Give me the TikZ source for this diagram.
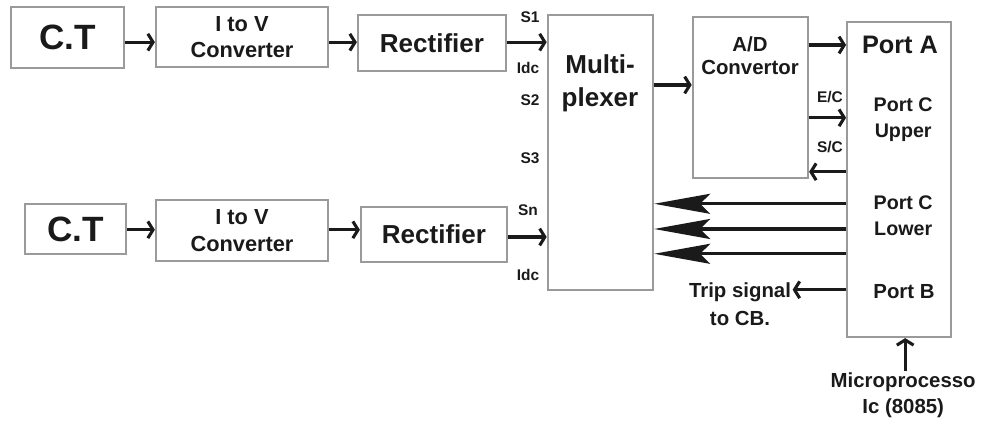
\documentclass[tikz,border=0pt]{standalone}
\usepackage{fontspec}
\setmainfont{Liberation Sans}
\usetikzlibrary{arrows.meta,positioning,calc}
\definecolor{boxGrey}{HTML}{9a9a9a}
\definecolor{inkBlack}{HTML}{1a1a1a}
\tikzset{
  blk/.style={draw=boxGrey, line width=1.6pt, fill=white, align=center,
              inner sep=2pt, text=inkBlack, font=\bfseries},
  lbl/.style={align=center, inner sep=1pt, text=inkBlack, font=\bfseries},
  sig/.style={draw=inkBlack, line width=2.2pt,
              -{Straight Barb[length=1.3mm,width=4.2mm]}},
  bus/.style={draw=inkBlack, line width=2.2pt,
              -{Stealth[length=14mm,width=5mm,inset=2.5mm]}},
}
\newcommand{\fs}[2]{\fontsize{#1}{#2}\selectfont}
\begin{document}
\begin{tikzpicture}
  \useasboundingbox (0,0) rectangle (24.725,10.575);
  % input chains
  \node[blk,font=\bfseries\fs{25}{28},minimum width=2.83cm,minimum height=1.53cm] (ct1) at (1.69,9.64) {C.T};
  \node[blk,font=\bfseries\fs{15.5}{19},minimum width=4.3cm,minimum height=1.5cm] (iv1) at (6.05,9.65) {I to V\\Converter};
  \node[blk,font=\bfseries\fs{18.5}{22},minimum width=3.7cm,minimum height=1.4cm] (re1) at (10.8,9.5) {Rectifier};
  \node[blk,font=\bfseries\fs{25}{28},minimum width=2.53cm,minimum height=1.25cm] (ct2) at (1.89,4.85) {C.T};
  \node[blk,font=\bfseries\fs{15.5}{19},minimum width=4.3cm,minimum height=1.53cm] (iv2) at (6.05,4.81) {I to V\\Converter};
  \node[blk,font=\bfseries\fs{18.5}{22},minimum width=3.65cm,minimum height=1.38cm] (re2) at (10.85,4.71) {Rectifier};
  % main blocks
  \node[blk,minimum width=2.63cm,minimum height=6.88cm] (mux) at (15.01,6.76) {};
  \node[lbl,font=\bfseries\fs{18.5}{23.5}] (muxt) at (15.0,8.5) {Multi-\\plexer};
  \node[blk,minimum width=2.88cm,minimum height=4.03cm] (adc) at (18.76,8.14) {};
  \node[lbl,font=\bfseries\fs{14.5}{16.5}] (adct) at (18.75,9.18) {A/D\\Convertor};
  \node[blk,minimum width=2.6cm,minimum height=7.88cm] (port) at (22.48,6.09) {};
  \node[lbl,font=\bfseries\fs{18}{21}] (pa) at (22.5,9.45) {Port A};
  \node[lbl,font=\bfseries\fs{14}{18}] (pcu) at (22.58,7.58) {Port C\\Upper};
  \node[lbl,font=\bfseries\fs{14}{18}] (pcl) at (22.58,5.18) {Port C\\Lower};
  \node[lbl,font=\bfseries\fs{14.5}{17}] (pb) at (22.6,3.28) {Port B};
  % channel labels
  \foreach \n/\t/\x/\y in {s1/S1/13.25/10.15, i1/Idc/13.2/8.88, s2/S2/13.25/8.08,
                           s3/S3/13.25/6.63, sn/Sn/13.2/5.33, i2/Idc/13.2/3.7,
                           ec/E\slash C/20.75/8.15, sc/S\slash C/20.75/6.9}
    \node[lbl,font=\bfseries\fs{11}{13}] (\n) at (\x,\y) {\t};
  \node[lbl,font=\bfseries\fs{14.5}{20}] (trip) at (18.5,2.98) {Trip signal\\to CB.};
  \node[lbl,font=\bfseries\fs{14.5}{18.5}] (mp) at (22.58,0.7) {Microprocesso\\Ic (8085)};
  % connectors
  \coordinate (row1) at (0,9.52);
  \coordinate (row2) at (0,4.83);
  \foreach \r in {1,2}{
    \draw[sig] (ct\r.east |- row\r) -- (iv\r.west |- row\r);
    \draw[sig] (iv\r.east |- row\r) -- (re\r.west |- row\r);
  }
  \draw[sig] (re1.east |- row1) -- (mux.west |- row1);
  \coordinate (snrow) at (0,4.65);
  \draw[sig] (re2.east |- snrow) -- (mux.west |- snrow);
  \coordinate (adrow) at (0,8.45);
  \draw[sig] (mux.east |- adrow) -- (adc.west |- adrow);
  \coordinate (parow) at (0,9.45);
  \draw[sig] (adc.east |- parow) -- (port.west |- parow);
  \coordinate (ecrow) at (0,7.63);
  \draw[sig] (adc.east |- ecrow) -- (port.west |- ecrow);
  \coordinate (screw) at (0,6.28);
  \draw[sig] (port.west |- screw) -- (adc.east |- screw);
  \foreach \k/\y in {a/5.48,b/4.85,c/4.23}{
    \coordinate (bus\k) at (0,\y);
    \draw[bus] (port.west |- bus\k) -- (mux.east |- bus\k);
  }
  \coordinate (triprow) at (0,3.33);
  \draw[sig] (port.west |- triprow) -- (trip.east |- triprow);
  \draw[sig] (mp.north) ++(0.05,0) coordinate (mpup) -- (mpup |- port.south);
\end{tikzpicture}
\end{document}
